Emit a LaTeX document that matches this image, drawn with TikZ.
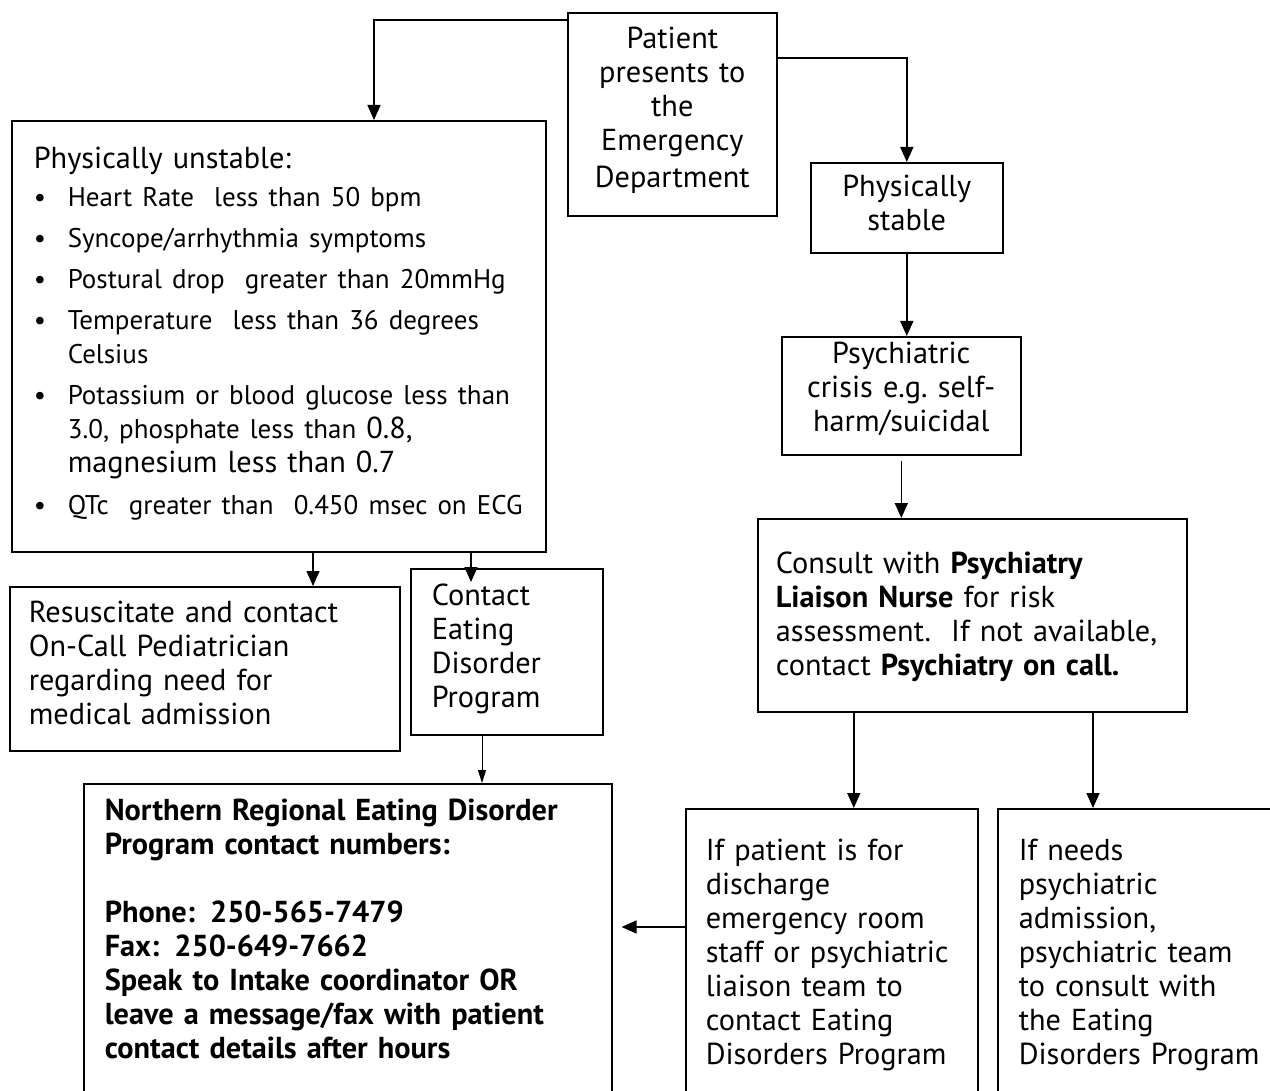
\documentclass[tikz,border=0pt]{standalone}
\usepackage{fontspec}
\setmainfont{PT Sans}
\usetikzlibrary{arrows.meta}
\begin{document}
\begin{tikzpicture}[x=1pt,y=-1pt,
    box/.style={draw,line width=1.6pt,anchor=north west,inner ysep=0pt,
      font=\fontsize{30.3}{34}\selectfont\frenchspacing},
    cutbox/.style={box,align=left,text depth=400pt},
    arr/.style={line width=1.6pt,-{Triangle[length=15pt,width=13pt]}},
    thinarr/.style={line width=1pt,-{Triangle[length=13pt,width=8pt]}}]
\clip (0,0) rectangle (1270,1091);
\fill[white] (0,0) rectangle (1270,1091);
% right branch
\node[box,align=center,text width=200pt,inner xsep=4.5pt,text height=36pt,text depth=167pt] (start) at (567,12)
  {Patient\\presents to\\the\\Emergency\\[3pt]Department};
\node[box,align=center,text width=184pt,inner xsep=4pt,text height=34pt,text depth=56pt] (stable) at (810,162)
  {Physically\\stable};
\node[box,align=center,text width=231pt,inner xsep=4pt,text height=27pt,text depth=91pt] (crisis) at (781,336)
  {Psychiatric\\crisis e.g. self-\\harm/suicidal};
\node[box,align=left,text width=393pt,inner xsep=18pt,text height=55pt,text depth=138pt] (consult) at (757,518)
  {Consult with \textbf{Psychiatry}\\\textbf{Liaison Nurse} for risk\\assessment.~ If not available,\\contact \textbf{Psychiatry on call.}};
\node[cutbox,text width=252pt,inner xsep=20pt,text height=52pt] (discharge) at (685,808)
  {If patient is for\\discharge\\emergency room\\staff or psychiatric\\liaison team to\\contact Eating\\Disorders Program};
\node[cutbox,text width=258pt,inner xsep=21pt,text height=52pt] (admit) at (997,808)
  {If needs\\psychiatric\\admission,\\psychiatric team\\to consult with\\the Eating\\Disorders Program};
% left branch
\node[box,align=left,text width=490pt,inner xsep=22pt,text height=48pt,text depth=383pt] (unstable) at (11,120)
  {Physically unstable:\\[7pt]
   {\fontsize{27}{34}\selectfont
   \begin{tabular}{@{}p{34pt}@{}l@{}}
   \textbullet & Heart Rate~ less than 50 bpm\\[7pt]
   \textbullet & Syncope/arrhythmia symptoms\\[7pt]
   \textbullet & Postural drop~ greater than 20mmHg\\[7pt]
   \textbullet & Temperature~ less than 36 degrees\\
               & Celsius\\[7pt]
   \textbullet & Potassium or blood glucose less than\\
               & 3.0, phosphate less than {\fontsize{30.3}{34}\selectfont 0.8,}\\
               & {\fontsize{30.3}{34}\selectfont magnesium less than 0.7}\\[8pt]
   \textbullet & QTc~ greater than~ 0.450 msec on ECG
   \end{tabular}}};
\node[box,align=left,text width=352pt,inner xsep=19pt,text height=36pt,text depth=128pt] (resus) at (9,586)
  {Resuscitate and contact\\On-Call Pediatrician\\regarding need for\\medical admission};
\node[box,align=left,text width=150pt,inner xsep=21pt,text height=37pt,text depth=129pt] (contact) at (410,568)
  {Contact\\Eating\\Disorder\\Program};
\node[cutbox,text width=486pt,inner xsep=21pt,text height=37pt,font=\fontsize{30.3}{34}\selectfont\bfseries] (northern) at (83,783)
  {Northern Regional Eating Disorder\\Program contact numbers:\\[34pt]Phone: 250-565-7479\\Fax: 250-649-7662\\Speak to Intake coordinator OR\\leave a message/fax with patient\\contact details after hours};
% connectors
\draw[arr] ([yshift=-8pt]start.north west) -| ([xshift=363pt]unstable.north west);
\draw[arr] ([yshift=-46pt]start.north east) -| (stable.north);
\draw[arr] (stable.south) -- (stable.south |- crisis.north);
\draw[arr] ([yshift=-5pt]crisis.south) -- (crisis.south |- consult.north);
\draw[arr] ([xshift=22pt]discharge.north |- consult.south) -- ([xshift=22pt]discharge.north);
\draw[arr] ([xshift=96pt]admit.north west |- consult.south) -- ([xshift=96pt]admit.north west);
\draw[arr] ([xshift=304pt]resus.north west |- unstable.south) -- ([xshift=304pt]resus.north west);
\draw[arr] ([xshift=61pt]contact.north west |- unstable.south) -- ([xshift=61pt,yshift=-14pt]contact.north west);
\draw[thinarr] ([xshift=72pt]contact.south west) -- ([xshift=72pt]contact.south west |- northern.north);
\draw[arr] ([yshift=-119pt]discharge.north west) coordinate (d) -- ([xshift=9pt]northern.north east |- d);
\end{tikzpicture}
\end{document}
